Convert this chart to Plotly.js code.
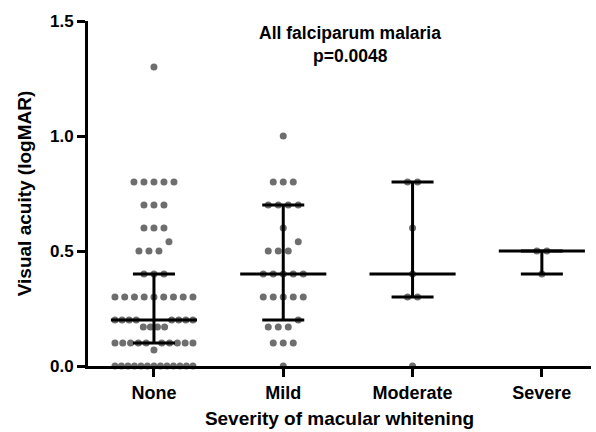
<!DOCTYPE html>
<html>
<head>
<meta charset="utf-8">
<script src="https://cdn.plot.ly/plotly-3.0.1.min.js"></script>
<style>html,body{margin:0;padding:0;background:#fff;}#chart{width:596px;height:432px;}</style>
</head>
<body>
<div id="chart"></div>
<script>
// Categories
const categories = ["None", "Mild", "Moderate", "Severe"];

// Visual acuity (logMAR) for each group
const noneValues = [1.3,
  0.8, 0.8, 0.8, 0.8, 0.8,
  0.7, 0.7, 0.7,
  0.6, 0.6, 0.6,
  0.54,
  0.5, 0.5, 0.5,
  0.4, 0.4, 0.4,
  0.3, 0.3, 0.3, 0.3, 0.3, 0.3, 0.3, 0.3, 0.3,
  0.2, 0.2, 0.2, 0.2, 0.2, 0.2, 0.2, 0.2,
  0.17, 0.17, 0.17, 0.17,
  0.1, 0.1, 0.1, 0.1, 0.1, 0.1, 0.1, 0.1, 0.1, 0.1,
  0.07,
  0, 0, 0, 0, 0, 0, 0, 0, 0, 0, 0, 0, 0];
const mildValues = [1.0,
  0.8, 0.8, 0.8,
  0.7, 0.7, 0.7, 0.7,
  0.6,
  0.54,
  0.5, 0.5, 0.5,
  0.4, 0.4, 0.4, 0.4, 0.4,
  0.3, 0.3, 0.3, 0.3, 0.3,
  0.2,
  0.17, 0.17, 0.17,
  0.1, 0.1, 0.1,
  0];
const moderateValues = [0.8, 0.8, 0.6, 0.4, 0.3, 0.3, 0];
const severeValues = [0.5, 0.5, 0.4];

// Median and interquartile range per group
const medians = [0.2, 0.4, 0.4, 0.5];
const q1 = [0.1, 0.2, 0.3, 0.4];
const q3 = [0.4, 0.7, 0.8, 0.5];

const groups = [noneValues, mildValues, moderateValues, severeValues];

// Plot geometry helpers (pixels per category unit)
const W = 596, H = 432;
const margin = {l: 88, r: 5, t: 21, b: 66};
const xRange = [-0.51, 3.38];
const pxPerUnit = (W - margin.l - margin.r) / (xRange[1] - xRange[0]);
const dotGap = 10 / pxPerUnit;      // preferred spacing between dots
const maxSpan = 78 / pxPerUnit;     // widest row

// Simple row-based dot arrangement (like a column scatter plot)
function arrange(values, center) {
  const bins = {};
  values.forEach(v => {
    const key = (Math.round(v * 10) / 10).toFixed(1);
    (bins[key] = bins[key] || []).push(v);
  });
  const xs = [], ys = [];
  Object.keys(bins).forEach(k => {
    const vals = bins[k].slice().sort((a, b) => a - b);
    const n = vals.length;
    const s = n > 1 ? Math.min(dotGap, maxSpan / (n - 1)) : 0;
    const slots = [];
    for (let i = 0; i < n; i++) slots.push((i - (n - 1) / 2) * s);
    slots.sort((a, b) => Math.abs(a) - Math.abs(b) || a - b);
    vals.forEach((v, i) => { xs.push(center + slots[i]); ys.push(v); });
  });
  return {xs, ys};
}

const traces = [];
groups.forEach((vals, i) => {
  const p = arrange(vals, i);
  traces.push({
    type: "scatter", mode: "markers", x: p.xs, y: p.ys,
    marker: {size: 7, color: "#6e6e6e"},
    cliponaxis: false, hoverinfo: "y", showlegend: false
  });
});

// Median line + IQR whiskers
traces.push({
  type: "scatter", mode: "markers",
  x: categories.map((c, i) => i), y: medians,
  marker: {size: 1, color: "#000"},
  error_y: {type: "data", symmetric: false,
    array: q3.map((v, i) => v - medians[i]),
    arrayminus: medians.map((m, i) => m - q1[i]),
    width: 21, thickness: 3, color: "#000"},
  error_x: {type: "constant", value: 0.333, width: 0, thickness: 3, color: "#000"},
  cliponaxis: false, showlegend: false, hoverinfo: "skip"
});

const fontFam = "Liberation Sans, Arial, Helvetica, sans-serif";
const layout = {
  width: W, height: H,
  margin: margin,
  paper_bgcolor: "#fff", plot_bgcolor: "#fff",
  showlegend: false,
  xaxis: {
    range: xRange, showgrid: false, zeroline: false,
    showline: true, linewidth: 3, linecolor: "#000",
    ticks: "outside", ticklen: 8, tickwidth: 3, tickcolor: "#000",
    tickvals: [0, 1, 2, 3], ticktext: categories,
    tickfont: {family: fontFam, size: 18, color: "#000", weight: 700},
    title: {text: "Severity of macular whitening", standoff: 11,
      font: {family: fontFam, size: 19, color: "#000", weight: 700}}
  },
  yaxis: {
    range: [0, 1.5], showgrid: false, zeroline: false,
    showline: true, linewidth: 3, linecolor: "#000",
    ticks: "outside", ticklen: 8, tickwidth: 3, tickcolor: "#000",
    tickvals: [0, 0.5, 1.0, 1.5], tickformat: ".1f",
    tickfont: {family: fontFam, size: 17, color: "#000", weight: 700},
    title: {text: "Visual acuity (logMAR)", standoff: 14,
      font: {family: fontFam, size: 19, color: "#000", weight: 700}}
  },
  annotations: [
    {text: "All falciparum malaria", xref: "paper", yref: "paper",
     x: 0.521, y: 0.965, showarrow: false, xanchor: "center", yanchor: "middle",
     font: {family: fontFam, size: 17.5, color: "#000", weight: 700}},
    {text: "p=0.0048", xref: "paper", yref: "paper",
     x: 0.521, y: 0.899, showarrow: false, xanchor: "center", yanchor: "middle",
     font: {family: fontFam, size: 17.5, color: "#000", weight: 700}}
  ]
};

Plotly.newPlot("chart", traces, layout, {displayModeBar: false, staticPlot: true});
</script>
</body>
</html>
